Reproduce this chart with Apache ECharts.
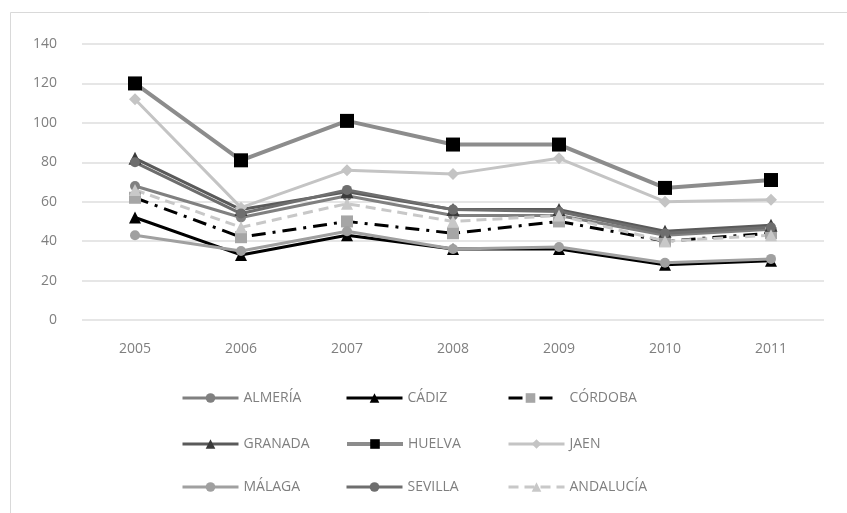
<!DOCTYPE html>
<html><head><meta charset="utf-8">
<script src="https://cdn.jsdelivr.net/npm/echarts@6/dist/echarts.min.js"></script>
<style>html,body{margin:0;padding:0;background:#fff}#c{width:847px;height:513px}</style>
</head><body><div id="c"></div>
<script>
const years = ['2005','2006','2007','2008','2009','2010','2011'];
const almeria   = [68, 52, 63, 53, 53, 43, 46];
const cadiz     = [52, 33, 43, 36, 36, 28, 30];
const cordoba   = [62, 42, 50, 44, 50, 40, 44];
const granada   = [82, 56, 65, 56, 56, 45, 48];
const huelva    = [120, 81, 101, 89, 89, 67, 71];
const jaen      = [112, 57, 76, 74, 82, 60, 61];
const malaga    = [43, 35, 45, 36, 37, 29, 31];
const sevilla   = [80, 54, 66, 56, 55, 44, 47];
const andalucia = [66, 47, 59, 50, 53, 40, 43];
const yTicks = [0, 20, 40, 60, 80, 100, 120, 140];

const names = ['ALMERÍA','CÁDIZ','CÓRDOBA','GRANADA','HUELVA','JAEN','MÁLAGA','SEVILLA','ANDALUCÍA'];
const datas = [almeria,cadiz,cordoba,granada,huelva,jaen,malaga,sevilla,andalucia];
const styles = [
  {line:'#808080', type:'solid', sym:'circle', symSize:10, mc:'#808080'},
  {line:'#000000', type:'solid', sym:'triangle', symSize:12, mc:'#000000'},
  {line:'#000000', type:[14,7,3,7], sym:'rect', symSize:12, mc:'#a6a6a6'},
  {line:'#5a5a5a', type:'solid', sym:'triangle', symSize:13, mc:'#3a3a3a'},
  {line:'#8c8c8c', type:'solid', sym:'rect', symSize:14, mc:'#000000', width:4},
  {line:'#c4c4c4', type:'solid', sym:'diamond', symSize:12, mc:'#c4c4c4'},
  {line:'#a0a0a0', type:'solid', sym:'circle', symSize:10, mc:'#a0a0a0'},
  {line:'#6e6e6e', type:'solid', sym:'circle', symSize:10, mc:'#6e6e6e'},
  {line:'#c8c8c8', type:[10,6], sym:'triangle', symSize:12, mc:'#c8c8c8'}
];
const series = names.map((n,i)=>({
  name:n, type:'line', data:datas[i], symbol:styles[i].sym, symbolSize:styles[i].symSize,
  lineStyle:{color:styles[i].line, width:styles[i].width||3, type:styles[i].type},
  itemStyle:{color:styles[i].mc, borderWidth:0},
  color:styles[i].line
}));
const legendPos = [
  [176,386],[340,386],[502,386],
  [176,432],[340,432],[502,432],
  [176,475],[340,475],[502,475]
];
const legends = names.map((n,i)=>({
  data:[{name:n, itemStyle:{color:styles[i].mc}, lineStyle:{color:styles[i].line, width:styles[i].width||3, type:styles[i].type}}],
  left:legendPos[i][0], top:legendPos[i][1], itemWidth:i===2?44:56, itemHeight:12,
  itemGap:0, selectedMode:false,
  textStyle:{color:'#7f7f7f', fontSize:14, fontFamily:'Open Sans', padding:[0,0,0, i===2?12:0]}
}));
const chart = echarts.init(document.getElementById('c'), null, {renderer:'canvas'});
chart.setOption({
  animation:false,
  backgroundColor:'#fff',
  graphic:[{type:'rect', shape:{x:10.5,y:12.5,width:850,height:510}, style:{fill:'none', stroke:'#d9d9d9', lineWidth:1}}],
  grid:{left:82, right:23, top:44, bottom:193},
  legend:legends,
  xAxis:{type:'category', data:years, boundaryGap:true,
    axisLine:{show:false}, axisTick:{show:false},
    axisLabel:{color:'#7f7f7f', fontSize:14, fontFamily:'Open Sans', margin:22}},
  yAxis:{type:'value', min:0, max:140, interval:20,
    axisLine:{show:false}, axisTick:{show:false},
    axisLabel:{color:'#7f7f7f', fontSize:14, fontFamily:'Open Sans', margin:25,
      formatter:v=>yTicks.includes(v)?String(v):''},
    splitLine:{lineStyle:{color:'#e6e6e6', width:2}}},
  series:series
});
</script></body></html>
